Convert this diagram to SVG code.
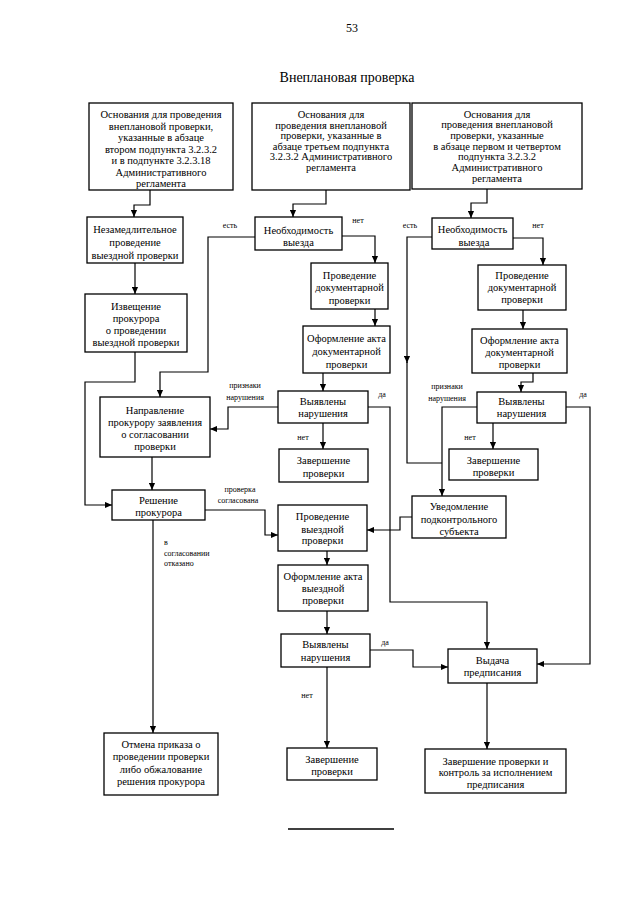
<svg xmlns="http://www.w3.org/2000/svg" width="640" height="905" viewBox="0 0 640 905" font-family="'Liberation Serif', 'DejaVu Serif', serif">
<defs>
<marker id="a" viewBox="0 0 8 8" refX="8" refY="4" markerWidth="7" markerHeight="7" markerUnits="userSpaceOnUse" orient="auto"><path d="M0,0.5 L8,4 L0,7.5z" fill="#000"/></marker>
</defs>
<style>
text{font-family:'Liberation Serif','DejaVu Serif',serif;fill:#000}
.n rect{fill:#fff;stroke:#000;stroke-width:1.3}
.n text{font-size:10.5px;text-anchor:middle}
.c path{fill:none;stroke:#000;stroke-width:1.2}
.l{font-size:8px;text-anchor:middle}
.ll{font-size:8px;text-anchor:start}
</style>
<rect width="640" height="905" fill="#fff"/>
<text x="352" y="32" font-size="12" text-anchor="middle">53</text>
<text x="347" y="82" font-size="14" text-anchor="middle">Внеплановая проверка</text>

<g class="c">
<path d="M150,190 V205 H134 V217" marker-end="url(#a)"/>
<path d="M135,263 V294" marker-end="url(#a)"/>
<path d="M135,352 V382 H85 V505 H112" marker-end="url(#a)"/>
<path d="M326,190 V204 H293 V217" marker-end="url(#a)"/>
<path d="M255,237 H208 V372 H160 V397" marker-end="url(#a)"/>
<path d="M342,236 H375 V263" marker-end="url(#a)"/>
<path d="M375,309 V326" marker-end="url(#a)"/>
<path d="M323,373 V391" marker-end="url(#a)"/>
<path d="M278,407 H228 V429 H210" marker-end="url(#a)"/>
<path d="M368,407 H390 V602 H487 V649" marker-end="url(#a)"/>
<path d="M323,423 V449" marker-end="url(#a)"/>
<path d="M487,189 V203 H471 V218" marker-end="url(#a)"/>
<path d="M432,237 H407 V363" marker-end="url(#a)"/>
<path d="M407,362 V463 H442"/>
<path d="M513,238 H543 V265" marker-end="url(#a)"/>
<path d="M523,310 V329" marker-end="url(#a)"/>
<path d="M533,373 V382 H521 V392" marker-end="url(#a)"/>
<path d="M477,407 H442 V496" marker-end="url(#a)"/>
<path d="M566,407 H590 V664 H537" marker-end="url(#a)"/>
<path d="M493,423 V449" marker-end="url(#a)"/>
<path d="M412,517 H400 V530 H367" marker-end="url(#a)"/>
<path d="M152,457 V490" marker-end="url(#a)"/>
<path d="M205,510 H265 V535 H278" marker-end="url(#a)"/>
<path d="M153,520 V733" marker-end="url(#a)"/>
<path d="M327,551 V565" marker-end="url(#a)"/>
<path d="M327,611 V634" marker-end="url(#a)"/>
<path d="M370,650 H413 V667 H448" marker-end="url(#a)"/>
<path d="M327,667 V748" marker-end="url(#a)"/>
<path d="M487,683 V749" marker-end="url(#a)"/>
</g>

<g id="labels">
<text class="l" x="230" y="228">есть</text>
<text class="l" x="358" y="223">нет</text>
<text class="l" x="410" y="228">есть</text>
<text class="l" x="538" y="228">нет</text>
<text class="l" x="245" y="388">признаки</text>
<text class="l" x="245" y="400">нарушения</text>
<text class="l" x="382" y="397">да</text>
<text class="l" x="303" y="440">нет</text>
<text class="l" x="447" y="389">признаки</text>
<text class="l" x="447" y="401">нарушения</text>
<text class="l" x="583" y="397">да</text>
<text class="l" x="470" y="440">нет</text>
<text class="l" x="240" y="492">проверка</text>
<text class="l" x="238" y="503">согласована</text>
<text class="ll" x="164" y="545">в</text>
<text class="ll" x="164" y="556">согласовании</text>
<text class="ll" x="164" y="566">отказано</text>
<text class="l" x="385" y="645">да</text>
<text class="l" x="307" y="698">нет</text>
</g>

<g id="b1" class="n"><rect x="89" y="103" width="144" height="87"/>
<text x="161" y="118">Основания для проведения</text><text x="161" y="129.5">внеплановой проверки,</text><text x="161" y="141">указанные в абзаце</text><text x="161" y="152.5">втором подпункта 3.2.3.2</text><text x="161" y="164">и в подпункте 3.2.3.18</text><text x="161" y="175.5">Административного</text><text x="161" y="187">регламента</text></g>

<g id="c1" class="n"><rect x="252" y="103" width="158" height="87"/>
<text x="331" y="118">Основания для</text><text x="331" y="128.5">проведения внеплановой</text><text x="331" y="139">проверки, указанные в</text><text x="331" y="149.5">абзаце третьем подпункта</text><text x="331" y="160">3.2.3.2 Административного</text><text x="331" y="170.5">регламента</text></g>

<g id="d1" class="n"><rect x="412" y="103" width="170" height="86"/>
<text x="497" y="117.5">Основания для</text><text x="497" y="128.2">проведения внеплановой</text><text x="497" y="139">проверки, указанные</text><text x="497" y="149.6">в абзаце первом и четвертом</text><text x="497" y="160.3">подпункта 3.2.3.2</text><text x="497" y="171">Административного</text><text x="497" y="181.7">регламента</text></g>

<g id="b2" class="n"><rect x="87" y="217" width="96" height="46"/>
<text x="135" y="233">Незамедлительное</text><text x="135" y="246">проведение</text><text x="135" y="259">выездной проверки</text></g>

<g id="b3" class="n"><rect x="85" y="294" width="102" height="58"/>
<text x="136" y="310">Извещение</text><text x="136" y="322">прокурора</text><text x="136" y="334">о проведении</text><text x="136" y="346">выездной проверки</text></g>

<g id="c2" class="n"><rect x="255" y="217" width="87" height="33"/>
<text x="298.5" y="233.5">Необходимость</text><text x="298.5" y="246">выезда</text></g>

<g id="c3" class="n"><rect x="311" y="263" width="77" height="46"/>
<text x="349.5" y="278.5">Проведение</text><text x="349.5" y="291">документарной</text><text x="349.5" y="303.5">проверки</text></g>

<g id="c4" class="n"><rect x="303" y="326" width="87" height="47"/>
<text x="346.5" y="342">Оформление акта</text><text x="346.5" y="355">документарной</text><text x="346.5" y="367.5">проверки</text></g>

<g id="c5" class="n"><rect x="278" y="391" width="90" height="32"/>
<text x="323" y="405">Выявлены</text><text x="323" y="417">нарушения</text></g>

<g id="c6" class="n"><rect x="279" y="449" width="89" height="33"/>
<text x="323.5" y="464">Завершение</text><text x="323.5" y="476.5">проверки</text></g>

<g id="d2" class="n"><rect x="432" y="218" width="81" height="31"/>
<text x="472.5" y="233">Необходимость</text><text x="474" y="246">выезда</text></g>

<g id="d3" class="n"><rect x="478" y="265" width="88" height="45"/>
<text x="522" y="278.5">Проведение</text><text x="522" y="291">документарной</text><text x="522" y="303">проверки</text></g>

<g id="d4" class="n"><rect x="472" y="329" width="95" height="44"/>
<text x="519.5" y="343.5">Оформление акта</text><text x="519.5" y="356">документарной</text><text x="519.5" y="367.5">проверки</text></g>

<g id="d5" class="n"><rect x="477" y="392" width="89" height="31"/>
<text x="521.5" y="405">Выявлены</text><text x="521.5" y="417">нарушения</text></g>

<g id="d6" class="n"><rect x="449" y="449" width="89" height="31"/>
<text x="493.5" y="464">Завершение</text><text x="493.5" y="476">проверки</text></g>

<g id="d7" class="n"><rect x="412" y="496" width="94" height="42"/>
<text x="459" y="510">Уведомление</text><text x="459" y="522.5">подконтрольного</text><text x="459" y="534.5">субъекта</text></g>

<g id="n1" class="n"><rect x="100" y="397" width="110" height="60"/>
<text x="155" y="413.5">Направление</text><text x="155" y="426">прокурору заявления</text><text x="155" y="437.5">о согласовании</text><text x="155" y="449.5">проверки</text></g>

<g id="e1" class="n"><rect x="112" y="490" width="93" height="30"/>
<text x="158.5" y="504">Решение</text><text x="158.5" y="516">прокурора</text></g>

<g id="f1" class="n"><rect x="278" y="505" width="89" height="46"/>
<text x="322.5" y="520">Проведение</text><text x="322.5" y="532.5">выездной</text><text x="322.5" y="544">проверки</text></g>

<g id="f2" class="n"><rect x="278" y="565" width="90" height="46"/>
<text x="323" y="579.5">Оформление акта</text><text x="323" y="592">выездной</text><text x="323" y="603.5">проверки</text></g>

<g id="f3" class="n"><rect x="281" y="634" width="89" height="33"/>
<text x="325.5" y="648">Выявлены</text><text x="325.5" y="661">нарушения</text></g>

<g id="f4" class="n"><rect x="287" y="748" width="90" height="32"/>
<text x="332" y="763">Завершение</text><text x="332" y="775">проверки</text></g>

<g id="g1" class="n"><rect x="448" y="649" width="89" height="34"/>
<text x="492.5" y="663.5">Выдача</text><text x="492.5" y="676">предписания</text></g>

<g id="g2" class="n"><rect x="425" y="749" width="141" height="44"/>
<text x="495.5" y="764.5">Завершение проверки и</text><text x="495.5" y="776">контроль за исполнением</text><text x="495.5" y="787.5">предписания</text></g>

<g id="h1" class="n"><rect x="104" y="733" width="114" height="62"/>
<text x="161" y="747.5">Отмена приказа о</text><text x="161" y="760">проведении проверки</text><text x="161" y="772.5">либо обжалование</text><text x="161" y="785">решения прокурора</text></g>

<path d="M288,829 H394" stroke="#000" stroke-width="1.5"/>
</svg>
